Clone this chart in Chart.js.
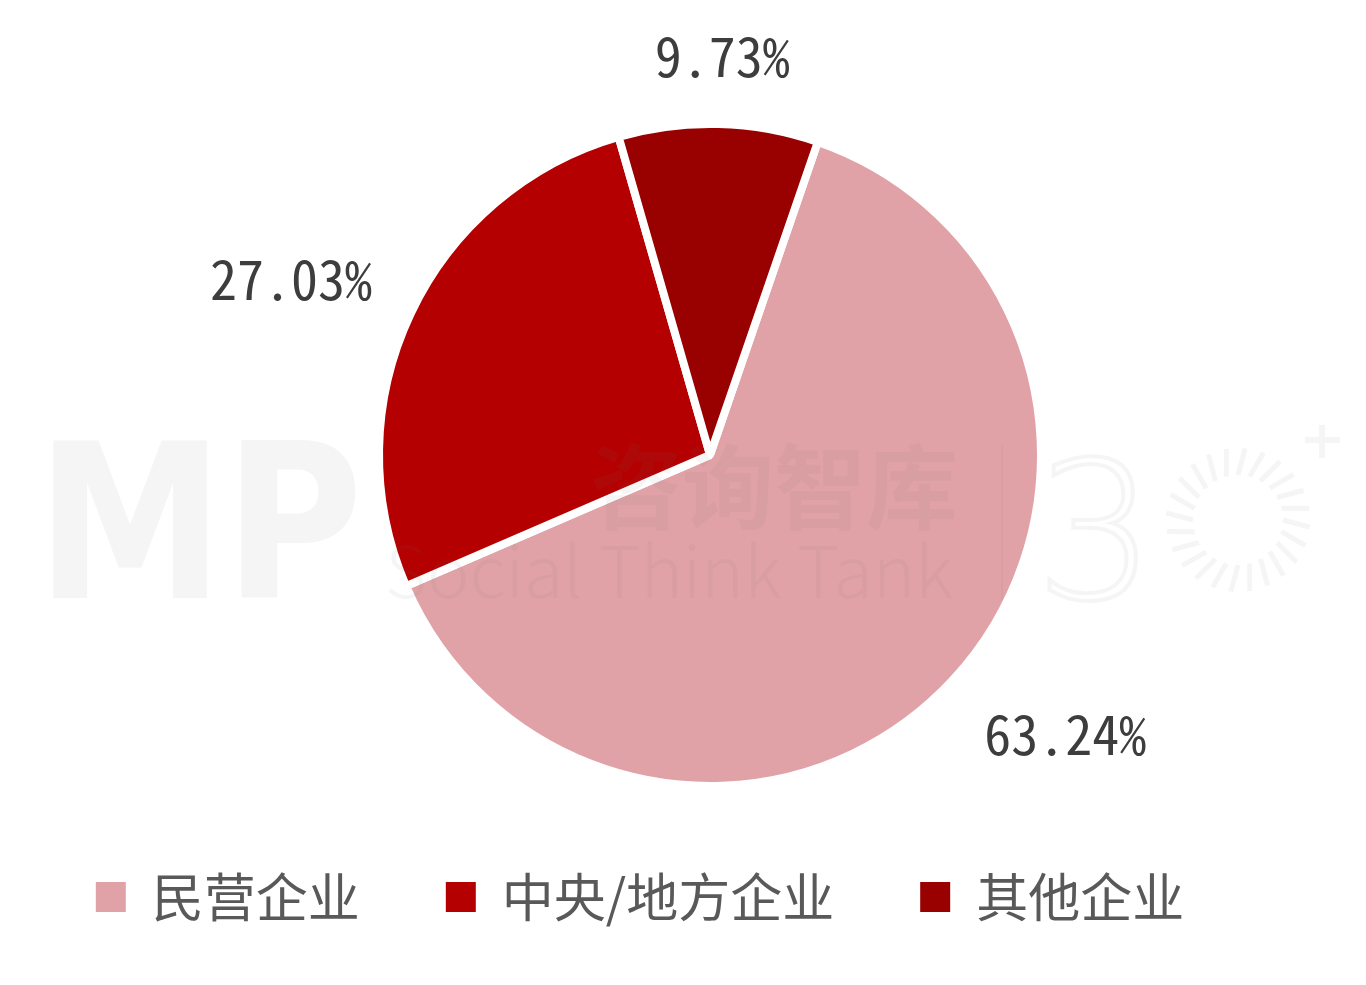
<!DOCTYPE html>
<html>
<head>
<meta charset="utf-8">
<script src="https://cdn.jsdelivr.net/npm/chart.js@4.4.1/dist/chart.umd.min.js"></script>
<style>
  html, body { margin: 0; padding: 0; background: #ffffff; }
  #wrap { position: relative; width: 1366px; height: 985px; }
</style>
</head>
<body>
<div id="wrap"><canvas id="c" width="1366" height="985"></canvas></div>
<script>
// ---- data ----
const categories = ['民营企业', '中央/地方企业', '其他企业'];
const shares = [63.24, 27.03, 9.73];
const sliceColors = ['#E0A2A6', '#B40000', '#990000'];

const NUM_FONT = '"Noto Sans Mono CJK SC", "DejaVu Sans Mono", monospace';
const CJK_FONT = '"Noto Sans CJK SC", "Noto Sans", sans-serif';

// faint watermark drawn over the chart
const watermark = {
  id: 'watermark',
  afterDatasetsDraw(chart) {
    const ctx = chart.ctx;
    ctx.save();
    const col = 'rgba(110,110,110,0.07)';
    ctx.fillStyle = col;
    ctx.strokeStyle = col;
    ctx.textBaseline = 'alphabetic';
    ctx.textAlign = 'left';
    ctx.font = '900 215px "DejaVu Sans", sans-serif';
    ctx.save();
    ctx.translate(36, 598);
    ctx.scale(0.88, 1);
    ctx.fillText('MP', 0, 0);
    ctx.restore();
    ctx.font = 'bold 92px ' + CJK_FONT;
    ctx.fillText('咨询智库', 590, 522);
    ctx.font = '300 72px ' + CJK_FONT;
    ctx.fillText('Social Think Tank', 385, 598);
    ctx.lineWidth = 2;
    ctx.beginPath(); ctx.moveTo(1002, 445); ctx.lineTo(1002, 600); ctx.stroke();
    ctx.lineWidth = 4;
    ctx.font = '200 190px "DejaVu Sans", sans-serif';
    ctx.strokeText('3', 1035, 598);
    // sun burst
    const sx = 1238, sy = 520;
    ctx.lineWidth = 5;
    for (let i = 0; i < 24; i++) {
      const a = i / 24 * Math.PI * 2;
      const r1 = 45, r2 = 72;
      ctx.beginPath();
      ctx.moveTo(sx + Math.cos(a) * r1, sy + Math.sin(a) * r1);
      ctx.lineTo(sx + Math.cos(a + 0.1) * r2, sy + Math.sin(a + 0.1) * r2);
      ctx.stroke();
    }
    ctx.lineWidth = 6;
    ctx.beginPath();
    ctx.moveTo(1322, 425); ctx.lineTo(1322, 458);
    ctx.moveTo(1305, 440); ctx.lineTo(1340, 440);
    ctx.stroke();
    ctx.restore();
  }
};

// outside-end percentage labels
const outsideLabels = {
  id: 'outsideLabels',
  afterDraw(chart) {
    const ctx = chart.ctx;
    const meta = chart.getDatasetMeta(0);
    ctx.save();
    ctx.font = '54px ' + NUM_FONT;
    ctx.fillStyle = '#3d3d3d';
    ctx.textAlign = 'center';
    ctx.textBaseline = 'middle';
    meta.data.forEach((arc, i) => {
      const p = arc.getProps(['x', 'y', 'startAngle', 'endAngle', 'outerRadius'], true);
      const mid = (p.startAngle + p.endAngle) / 2;
      const dist = p.outerRadius + 43;
      const dx = Math.cos(mid), dy = Math.sin(mid);
      const ax = p.x + dx * dist, ay = p.y + dy * dist;
      const txt = shares[i].toFixed(2) + '%';
      const w = ctx.measureText(txt).width;
      const hw = w / 2, hh = 25;
      const kx = Math.max(-1, Math.min(1, dx * 1.5));
      const ky = Math.max(-1, Math.min(1, dy * 1.5));
      ctx.fillText(txt, ax + kx * hw, ay + ky * hh);
    });
    ctx.restore();
  }
};

// place pie centre and shift legend
const placeBoxes = {
  id: 'placeBoxes',
  afterLayout(chart) {
    const lg = chart.legend;
    lg.left -= 70; lg.right -= 70;
    lg.top -= 10; lg.bottom -= 10;
    const cx = 710, cy = 455, half = 380;
    const ca = chart.chartArea;
    ca.left = cx - half; ca.right = cx + half;
    ca.top = cy - half; ca.bottom = cy + half;
    ca.width = 2 * half; ca.height = 2 * half;
  }
};

const baseGen = Chart.overrides.pie.plugins.legend.labels.generateLabels;

new Chart(document.getElementById('c'), {
  type: 'pie',
  data: {
    labels: categories,
    datasets: [{
      data: shares,
      backgroundColor: sliceColors,
      borderColor: '#ffffff',
      borderWidth: 8,
      hoverOffset: 0
    }]
  },
  options: {
    responsive: false,
    animation: false,
    rotation: 19,
    radius: 331,
    layout: { padding: { left: 54, right: 0, top: 30, bottom: 42 } },
    plugins: {
      legend: {
        position: 'bottom',
        labels: {
          boxWidth: 30,
          boxHeight: 30,
          padding: 86,
          color: '#595959',
          font: { family: CJK_FONT, size: 52 },
          generateLabels(chart) {
            return baseGen(chart).map(l => Object.assign(l, { lineWidth: 0, strokeStyle: 'rgba(0,0,0,0)' }));
          }
        }
      },
      tooltip: { enabled: false }
    }
  },
  plugins: [outsideLabels, watermark, placeBoxes]
});
</script>
</body>
</html>
